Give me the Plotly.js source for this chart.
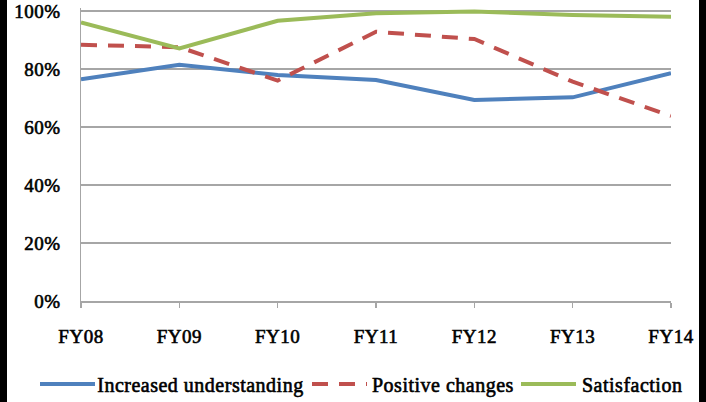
<!DOCTYPE html>
<html>
<head>
<meta charset="utf-8">
<script src="https://cdn.plot.ly/plotly-3.0.1.min.js"></script>
<style>
  html, body { margin: 0; padding: 0; background: #000; width: 706px; height: 402px; overflow: hidden; }
  #chart { position: absolute; left: 7px; top: 0; width: 692px; height: 402px; background: #fff; }
  #chart text { stroke: #000; stroke-width: 0.6px; letter-spacing: 0.5px; }
</style>
</head>
<body>
<div id="chart"></div>
<script>
const categories = ["FY08", "FY09", "FY10", "FY11", "FY12", "FY13", "FY14"];
const seriesNames = ["Increased understanding", "Positive changes", "Satisfaction"];
const increasedUnderstanding = [0.764, 0.814, 0.779, 0.762, 0.693, 0.702, 0.785];
const positiveChanges = [0.883, 0.875, 0.760, 0.928, 0.903, 0.756, 0.638];
const satisfaction = [0.960, 0.871, 0.966, 0.992, 0.998, 0.986, 0.980];
const yTicks = [0, 0.2, 0.4, 0.6, 0.8, 1.0];
const yTickLabels = ["0%", "20%", "40%", "60%", "80%", "100%"];

const colors = ["#4F81BD", "#C0504D", "#9BBB59"];
const dashes = ["solid", "16px,11px", "solid"];
const values = [increasedUnderstanding, positiveChanges, satisfaction];
const font = "Liberation Serif";

const traces = values.map((v, i) => ({
  x: categories, y: v, type: "scatter", mode: "lines", name: seriesNames[i],
  line: { color: colors[i], width: 4, dash: dashes[i] }, showlegend: false
}));

const px = p => (p - 81) / 590;
const py = p => (301 - p) / 293;
const legendItems = [
  { x0: 40, x1: 95, tx: 101 },
  { x0: 312, x1: 367, tx: 374 },
  { x0: 521, x1: 576, tx: 583 }
];
const shapes = [];
const annotations = [];
legendItems.forEach((it, i) => {
  shapes.push({ type: "line", xref: "paper", yref: "paper", x0: px(it.x0), x1: px(it.x1), y0: py(384), y1: py(384),
    line: { color: colors[i], width: 4, dash: dashes[i] } });
  annotations.push({ xref: "paper", yref: "paper", x: px(it.tx), y: py(385), xanchor: "left", yanchor: "middle",
    text: seriesNames[i], showarrow: false, font: { family: font, size: 20, color: "#000" } });
});

const layout = {
  width: 692, height: 402,
  margin: { l: 74, r: 28, t: 8, b: 101 },
  paper_bgcolor: "#fff", plot_bgcolor: "#fff",
  showlegend: false,
  font: { family: font, size: 19, color: "#000" },
  xaxis: {
    type: "category", range: [0, 6], showgrid: false, zeroline: false,
    showline: true, linecolor: "#A6A6A6", linewidth: 1.5,
    ticks: "outside", ticklen: 5, tickcolor: "#A6A6A6", tickwidth: 1.5,
    ticklabelstandoff: 13,
    tickfont: { family: font, size: 19, color: "#000" }
  },
  yaxis: {
    range: [0, 1.01], tickvals: yTicks, ticktext: yTickLabels,
    showgrid: true, gridcolor: "#A6A6A6", gridwidth: 1.5, zeroline: false,
    showline: true, linecolor: "#A6A6A6", linewidth: 1.5, ticks: "",
    ticklabelstandoff: 15,
    tickfont: { family: font, size: 19, color: "#000" }
  },
  shapes: shapes,
  annotations: annotations
};

Plotly.newPlot("chart", traces, layout, { displayModeBar: false, staticPlot: true });
</script>
</body>
</html>
